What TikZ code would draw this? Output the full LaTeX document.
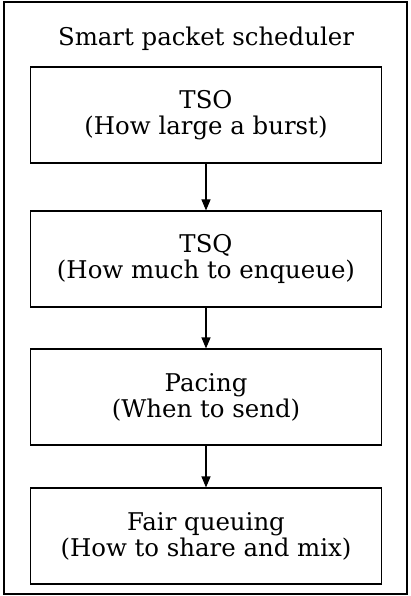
\documentclass[tikz,border=0pt]{standalone}
\usepackage{fontspec}
\setmainfont{DejaVu Serif}
\usetikzlibrary{positioning,arrows.meta}

\begin{document}
\begin{tikzpicture}[x=1bp,y=-1bp,
    stage/.style={draw,line width=1.1pt,minimum width=351bp,minimum height=96bp,
                  align=center,font=\fontsize{24.5}{26}\selectfont,inner sep=0pt}]
                        \useasboundingbox (0,0) rectangle (410,596);
                        \draw[line width=1.1pt] (4,2) rectangle (407,594);
                        \node[font=\fontsize{24.5}{26}\selectfont] (title) at (206,39) {Smart packet scheduler};

                        \node[stage] (tso)  at (206,115) {TSO\\(How large a burst)};
                        \node[stage] (tsq)  at (206,259) {TSQ\\(How much to enqueue)};
                        \node[stage] (pace) at (206,397) {Pacing\\(When to send)};
                        \node[stage] (fq)   at (206,536) {Fair queuing\\(How to share and mix)};
                        \begin{scope} [-{Triangle[length=11bp,width=9bp]},line width=1.1pt]
                            \draw (tso) -- (tsq);
                            \draw (tsq) -- (pace);
                            \draw (pace) -- (fq);
                        \end{scope}
                    \end{tikzpicture}
\end{document}
